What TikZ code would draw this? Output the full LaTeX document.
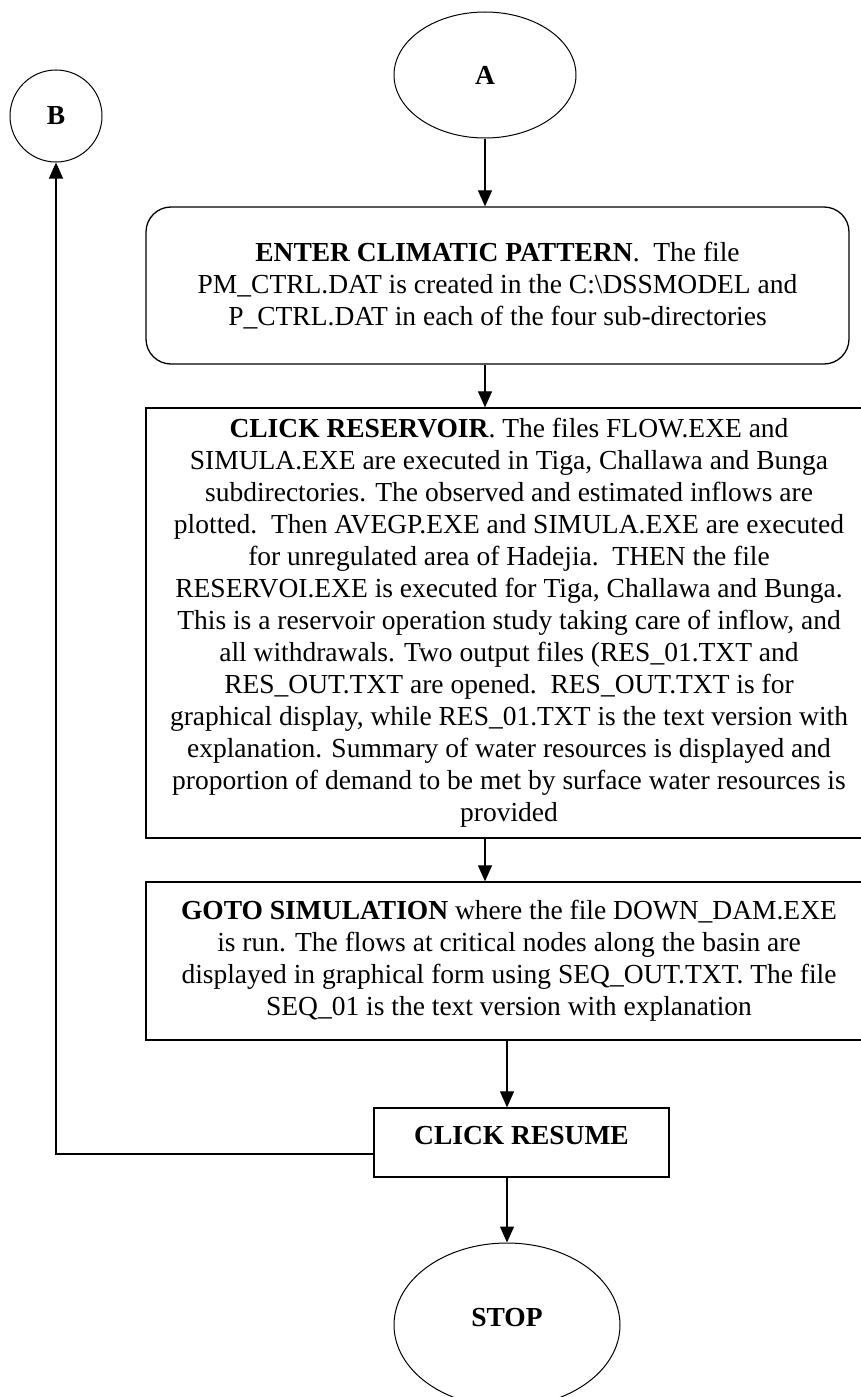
\documentclass[tikz,border=0pt]{standalone}
\usepackage{fontspec}
\setmainfont{Liberation Serif}
\usetikzlibrary{shapes.geometric,arrows.meta}
\tikzset{
  base/.style={draw, line width=1.3pt, inner sep=0pt, font=\fontsize{27.5}{32}\selectfont, align=center},
  oval/.style={base, ellipse, line width=1pt},
  roundbox/.style={base, rounded corners=25pt},
  sqbox/.style={base, rectangle},
  arr/.style={line width=1.1pt, -{Triangle[length=16pt,width=14pt]}}
}
\begin{document}
\begin{tikzpicture}[x=1pt,y=-1pt]
\clip (0,0) rectangle (861,1397);
\node[oval, minimum width=182pt, minimum height=126pt] (A) at (485,75) {\textbf{A}};
\node[oval, minimum width=92pt, minimum height=92pt] (B) at (56,116) {\textbf{B}};
\node[roundbox, minimum width=703pt, minimum height=157pt] (climate) at (497.5,285.5)
 {\textbf{ENTER CLIMATIC PATTERN}.\ \ The file\\
  PM\_CTRL.DAT is created in the C:\textbackslash DSSMODEL and\\
  P\_CTRL.DAT in each of the four sub-directories};
\node[sqbox, minimum width=726pt, minimum height=430pt] (reservoir) at (509,623)
 {\textbf{CLICK RESERVOIR}. The files FLOW.EXE and\\
  SIMULA.EXE are executed in Tiga, Challawa and Bunga\\
  subdirectories. The observed and estimated inflows are\\
  plotted.\ \ Then AVEGP.EXE and SIMULA.EXE are executed\\
  for unregulated area of Hadejia.\ \ THEN the file\\
  RESERVOI.EXE is executed for Tiga, Challawa and Bunga.\\
  This is a reservoir operation study taking care of inflow, and\\
  all withdrawals. Two output files (RES\_01.TXT and\\
  RES\_OUT.TXT are opened.\ \ RES\_OUT.TXT is for\\
  graphical display, while RES\_01.TXT is the text version with\\
  explanation. Summary of water resources is displayed and\\
  proportion of demand to be met by surface water resources is\\
  provided};
\node[sqbox, minimum width=726pt, minimum height=158pt] (simulation) at (509,961)
 {\textbf{GOTO SIMULATION} where the file DOWN\_DAM.EXE\\
  is run. The flows at critical nodes along the basin are\\
  displayed in graphical form using SEQ\_OUT.TXT. The file\\
  SEQ\_01 is the text version with explanation};
\node[sqbox, minimum width=295pt, minimum height=69pt, text depth=14pt] (resume) at (521.5,1142.5) {\textbf{CLICK RESUME}};
\node[oval, minimum width=226pt, minimum height=164pt, text depth=16pt] (stop) at (507,1325) {\textbf{STOP}};
\coordinate (loop) at (374,1154);
\draw[arr] (A.south) -- (A.south |- climate.north);
\draw[arr] (A.south |- climate.south) -- (A.south |- reservoir.north);
\draw[arr] (A.south |- reservoir.south) -- (A.south |- simulation.north);
\draw[arr] (stop.north |- simulation.south) -- (stop.north |- resume.north);
\draw[arr] (stop.north |- resume.south) -- (stop.north);
\draw[arr] (loop) -| (B.south);
\end{tikzpicture}
\end{document}
